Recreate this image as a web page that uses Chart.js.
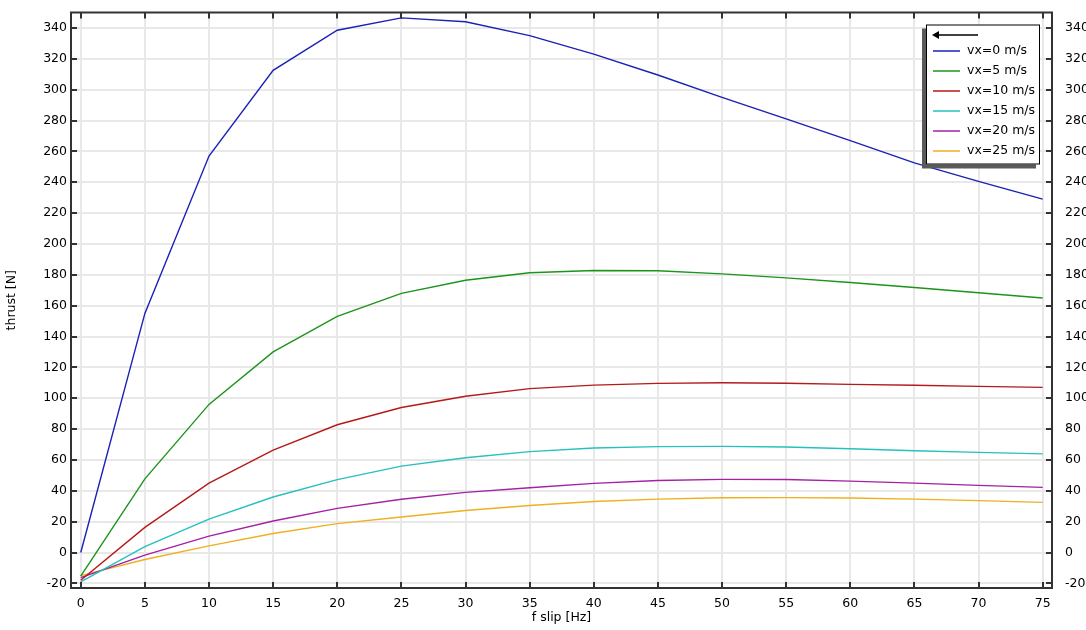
<!DOCTYPE html>
<html>
<head>
<meta charset="utf-8">
<title>thrust vs f slip</title>
<script src="https://cdn.jsdelivr.net/npm/chart.js@4.4.0/dist/chart.umd.min.js"></script>
<style>
  html, body { margin: 0; padding: 0; background: #fff; }
  #wrap { width: 1086px; height: 630px; }
</style>
</head>
<body>
<div id="wrap"><canvas id="thrustChart" width="1086" height="630"></canvas></div>
<script>
// slip frequency [Hz]
const fSlip = [0, 5, 10, 15, 20, 25, 30, 35, 40, 45, 50, 55, 60, 65, 70, 75];

// thrust [N] for each vx
const thrustVx0  = [0, 155, 257, 312.5, 338.5, 346.5, 344, 335, 323, 309.5, 295, 281, 267, 252.5, 240.5, 229];
const thrustVx5  = [-15.3, 47.7, 96, 130, 153, 168, 176.5, 181.3, 182.8, 182.6, 180.6, 178, 175, 171.8, 168.4, 165];
const thrustVx10 = [-18, 16.3, 45, 66.4, 82.8, 94, 101.3, 106.2, 108.5, 109.6, 110, 109.7, 109, 108.4, 107.7, 107];
const thrustVx15 = [-19, 3.8, 21.7, 36, 47.2, 56, 61.4, 65.4, 67.7, 68.6, 68.8, 68.4, 67.3, 66, 64.9, 63.9];
const thrustVx20 = [-16.3, -1.7, 10.6, 20.4, 28.6, 34.5, 39, 42, 44.8, 46.7, 47.4, 47.3, 46.3, 45, 43.5, 42.2];
const thrustVx25 = [-15, -4.5, 4.3, 12.3, 18.7, 23, 27.2, 30.5, 33.1, 34.6, 35.5, 35.6, 35.3, 34.6, 33.6, 32.5];

const seriesLabels = ["vx=0 m/s", "vx=5 m/s", "vx=10 m/s", "vx=15 m/s", "vx=20 m/s", "vx=25 m/s"];
const seriesValues = [thrustVx0, thrustVx5, thrustVx10, thrustVx15, thrustVx20, thrustVx25];
const lineColors = ["#1a22b4", "#1c941c", "#b41a1a", "#26c0c0", "#a420a4", "#eeb020"];

const xTicks = [0, 5, 10, 15, 20, 25, 30, 35, 40, 45, 50, 55, 60, 65, 70, 75];
const yTicks = [-20, 0, 20, 40, 60, 80, 100, 120, 140, 160, 180, 200, 220, 240, 260, 280, 300, 320, 340];

const FONT = "DejaVu Sans";
const FRAME = "#333333";

// frame with inward tick marks on all four sides
const framePlugin = {
  id: "frame",
  afterDatasetsDraw(chart) {
    const { ctx, chartArea: a, scales } = chart;
    const tl = 6;
    ctx.save();
    ctx.strokeStyle = FRAME;
    ctx.lineWidth = 2;
    ctx.beginPath();
    xTicks.forEach(v => {
      const px = Math.round(scales.x.getPixelForValue(v));
      ctx.moveTo(px, a.bottom); ctx.lineTo(px, a.bottom - tl);
      ctx.moveTo(px, a.top); ctx.lineTo(px, a.top + tl);
    });
    yTicks.forEach(v => {
      const py = Math.round(scales.y.getPixelForValue(v));
      ctx.moveTo(a.left, py); ctx.lineTo(a.left + tl, py);
      ctx.moveTo(a.right, py); ctx.lineTo(a.right - tl, py);
    });
    ctx.stroke();
    ctx.strokeRect(a.left, a.top, a.right - a.left, a.bottom - a.top);
    ctx.restore();
  }
};

// boxed legend with drop shadow, top right inside the plot
const boxLegendPlugin = {
  id: "boxLegend",
  afterDraw(chart) {
    const { ctx, chartArea: a } = chart;
    const sets = chart.data.datasets;
    const w = 114, h = 140;
    const x = a.right - 12 - w, y = a.top + 12;
    ctx.save();
    ctx.fillStyle = "#5a5a5a";
    ctx.fillRect(x - 4, y + 4, w, h);
    ctx.fillStyle = "#ffffff";
    ctx.fillRect(x, y, w, h);
    ctx.strokeStyle = "#000";
    ctx.lineWidth = 1;
    ctx.strokeRect(x + 0.5, y + 0.5, w - 1, h - 1);

    // arrow row
    ctx.lineWidth = 1.5;
    ctx.beginPath();
    ctx.moveTo(x + 10, y + 10.5); ctx.lineTo(x + 52, y + 10.5);
    ctx.stroke();
    ctx.fillStyle = "#000";
    ctx.beginPath();
    ctx.moveTo(x + 6, y + 10.5);
    ctx.lineTo(x + 13, y + 6.5);
    ctx.lineTo(x + 13, y + 14.5);
    ctx.closePath();
    ctx.fill();

    ctx.font = "12.5px '" + FONT + "'";
    ctx.textBaseline = "middle";
    ctx.textAlign = "left";
    sets.forEach((ds, i) => {
      const yy = y + 26.5 + 20 * i;
      ctx.strokeStyle = ds.borderColor;
      ctx.lineWidth = 1.5;
      ctx.beginPath();
      ctx.moveTo(x + 7, yy); ctx.lineTo(x + 34, yy);
      ctx.stroke();
      ctx.fillStyle = "#000";
      ctx.fillText(ds.label, x + 41, yy);
    });
    ctx.restore();
  }
};

const datasets = seriesValues.map((vals, i) => ({
  label: seriesLabels[i],
  data: fSlip.map((f, k) => ({ x: f, y: vals[k] })),
  borderColor: lineColors[i],
  backgroundColor: lineColors[i],
  borderWidth: 1.4,
  pointRadius: 0,
  tension: 0,
  fill: false,
  yAxisID: "y"
}));

const tickFont = { family: FONT, size: 12.5 };

new Chart(document.getElementById("thrustChart"), {
  type: "line",
  data: { datasets },
  options: {
    responsive: false,
    animation: false,
    layout: { padding: { top: 10, left: 0, right: 0, bottom: 0 } },
    plugins: { legend: { display: false }, tooltip: { enabled: false } },
    scales: {
      x: {
        type: "linear",
        min: -0.76,
        max: 75.73,
        afterBuildTicks: s => { s.ticks = xTicks.map(v => ({ value: v })); },
        afterFit: s => { s.height = 42; },
        grid: { color: "#e8e8e8", lineWidth: 2, drawTicks: false },
        border: { display: false },
        ticks: { font: tickFont, color: "#000", padding: 8, maxRotation: 0, autoSkip: false },
        title: { display: true, text: "f slip [Hz]", font: tickFont, color: "#000", padding: { top: 0, bottom: 5 } }
      },
      y: {
        type: "linear",
        position: "left",
        min: -23,
        max: 350,
        afterBuildTicks: s => { s.ticks = yTicks.map(v => ({ value: v })); },
        afterFit: s => { s.width = 71; },
        grid: { color: "#e8e8e8", lineWidth: 2, drawTicks: false },
        border: { display: false },
        ticks: { font: tickFont, color: "#000", padding: 4, autoSkip: false },
        title: { display: true, text: "thrust [N]", font: tickFont, color: "#000", padding: { top: 4, bottom: 0 } }
      },
      y2: {
        type: "linear",
        position: "right",
        min: -23,
        max: 350,
        afterBuildTicks: s => { s.ticks = yTicks.map(v => ({ value: v })); },
        afterFit: s => { s.width = 34; },
        grid: { display: false },
        border: { display: false },
        ticks: { font: tickFont, color: "#000", padding: 5, autoSkip: false }
      }
    }
  },
  plugins: [framePlugin, boxLegendPlugin]
});
</script>
</body>
</html>
